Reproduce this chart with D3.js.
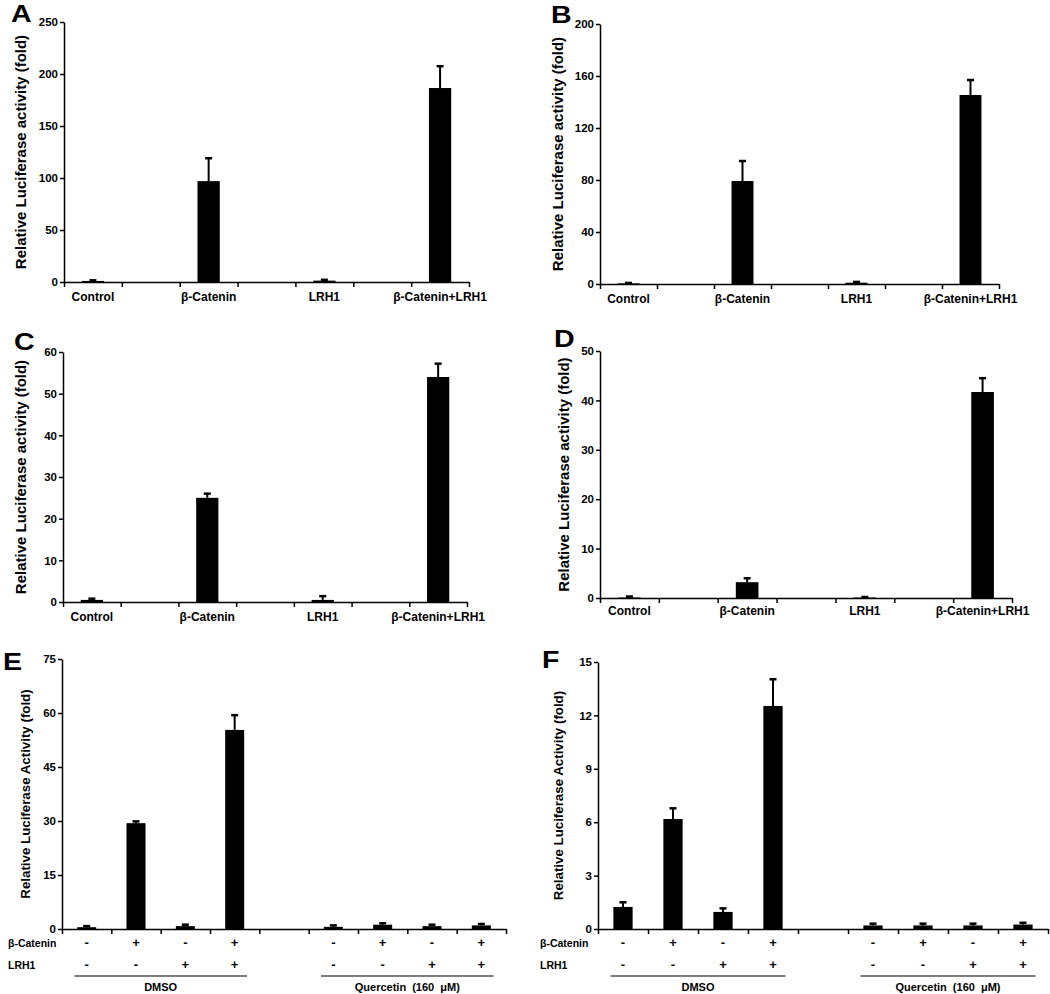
<!DOCTYPE html>
<html>
<head>
<meta charset="utf-8">
<script src="https://cdn.jsdelivr.net/npm/d3@7"></script>
<style>
  html, body { margin: 0; padding: 0; background: #fff; }
  svg { display: block; }
  text { font-family: "Liberation Sans", Arial, sans-serif; font-weight: bold; fill: #000; }
</style>
</head>
<body>
<svg id="chart" width="1050" height="994"></svg>
<script>
// ---------- DATA ----------
const catsABCD = ["Control", "", "β-Catenin", "", "LRH1", "", "β-Catenin+LRH1"];

const valA = [1.0, null, 97, null, 1.3, null, 186.5];
const errA = [0.6, null, 22, null, 0.8, null, 21];
const ticksA = [0, 50, 100, 150, 200, 250];

const valB = [0.5, null, 79.2, null, 1.0, null, 145.4];
const errB = [0.3, null, 15.4, null, 0.6, null, 11.5];
const ticksB = [0, 40, 80, 120, 160, 200];

const valC = [0.5, null, 25, null, 0.5, null, 54];
const errC = [0.3, null, 1.0, null, 0.9, null, 3.2];
const ticksC = [0, 10, 20, 30, 40, 50, 60];

const valD = [0.1, null, 3.2, null, 0.1, null, 41.7];
const errD = [0.2, null, 0.8, null, 0.1, null, 2.8];
const ticksD = [0, 10, 20, 30, 40, 50];

// E / F : 4 DMSO conditions, gap, 4 Quercetin conditions
const valE = [0.5, 29.4, 0.8, 55.3, null, 0.6, 1.2, 0.8, 1.0];
const errE = [0.3, 0.5, 0.4, 4.1, null, 0.4, 0.4, 0.4, 0.4];
const ticksE = [0, 15, 30, 45, 60, 75];

const valF = [1.24, 6.18, 0.96, 12.53, null, 0.2, 0.2, 0.2, 0.25];
const errF = [0.26, 0.6, 0.2, 1.5, null, 0.1, 0.1, 0.1, 0.1];
const ticksF = [0, 3, 6, 9, 12, 15];

const betaSigns = ["-", "+", "-", "+", "", "-", "+", "-", "+"];
const lrhSigns  = ["-", "-", "+", "+", "", "-", "-", "+", "+"];
const rowLabels = ["β-Catenin", "LRH1"];
const groupNames = ["DMSO", "Quercetin (160 μM)"];
const groupFirst = [0, 5];
const groupLast  = [3, 8];

const titleABCD = "Relative Luciferase activity (fold)";
const titleEF = "Relative Luciferase Activity (fold)";

// ---------- LAYOUT ----------
const svg = d3.select("#chart");

const panels = [
  { letter: "A", lx: 11, ly: 22, vals: valA, errs: errA, ticks: ticksA, max: 250, x0: 64, x1: 469, yTop: 22, yBot: 282, tx: 20, title: titleABCD, tsize: 15, cats: catsABCD, catDy: 19 },
  { letter: "B", lx: 551, ly: 23, vals: valB, errs: errB, ticks: ticksB, max: 200, x0: 600, x1: 999, yTop: 24, yBot: 284, tx: 557, title: titleABCD, tsize: 15, cats: catsABCD, catDy: 19 },
  { letter: "C", lx: 14, ly: 350, vals: valC, errs: errC, ticks: ticksC, max: 60, x0: 63, x1: 467, yTop: 352, yBot: 602, tx: 20, title: titleABCD, tsize: 15, cats: catsABCD, catDy: 19 },
  { letter: "D", lx: 554, ly: 347, vals: valD, errs: errD, ticks: ticksD, max: 50, x0: 600, x1: 1012, yTop: 351, yBot: 598, tx: 563, title: titleABCD, tsize: 15, cats: catsABCD, catDy: 17 },
  { letter: "E", lx: 3, ly: 670, vals: valE, errs: errE, ticks: ticksE, max: 75, x0: 62, x1: 506, yTop: 659, yBot: 929, tx: 25, title: titleEF, tsize: 13.3, signs: true, rowX: 8 },
  { letter: "F", lx: 542, ly: 668, vals: valF, errs: errF, ticks: ticksF, max: 15, x0: 598, x1: 1048, yTop: 662, yBot: 929, tx: 558, title: titleEF, tsize: 13.3, signs: true, rowX: 540 }
];

panels.forEach(p => {
  const n = p.vals.length;
  const g = svg.append("g");
  const y = d3.scaleLinear().domain([0, p.max]).range([p.yBot, p.yTop]);
  const xb = d3.scaleBand().domain(d3.range(n)).range([p.x0, p.x1]).padding(0);
  const xl = d3.scaleLinear().domain([0, n]).range([p.x0, p.x1]);
  const bw = xb.bandwidth();
  const barW = bw * 0.385;

  // y axis
  const ya = g.append("g").attr("transform", `translate(${p.x0},0)`)
    .call(d3.axisLeft(y).tickValues(p.ticks).tickSize(4).tickSizeOuter(0).tickPadding(2));
  ya.select(".domain").attr("stroke-width", 1.5);
  ya.selectAll(".tick line").attr("stroke-width", 1.5);
  ya.selectAll(".tick text").attr("font-size", 11.5).attr("font-family", "Liberation Sans, Arial, sans-serif").attr("font-weight", "bold");

  // x axis (tick marks at band edges)
  const xa = g.append("g").attr("transform", `translate(0,${p.yBot})`)
    .call(d3.axisBottom(xl).tickValues(d3.range(n + 1)).tickFormat("").tickSize(5).tickSizeOuter(0));
  xa.select(".domain").attr("stroke-width", 1.5);
  xa.selectAll(".tick line").attr("stroke-width", 1.5);

  // bars
  const idx = d3.range(n).filter(i => p.vals[i] !== null);
  g.selectAll("rect.bar").data(idx).join("rect")
    .attr("x", i => xb(i) + (bw - barW) / 2)
    .attr("width", barW)
    .attr("y", i => y(p.vals[i]))
    .attr("height", i => p.yBot - y(p.vals[i]))
    .attr("fill", "#000");

  // error bars (upper only)
  g.selectAll("line.err").data(idx).join("line")
    .attr("x1", i => xb(i) + bw / 2).attr("x2", i => xb(i) + bw / 2)
    .attr("y1", i => y(p.vals[i])).attr("y2", i => y(p.vals[i] + p.errs[i]))
    .attr("stroke", "#000").attr("stroke-width", 2);
  g.selectAll("line.cap").data(idx).join("line")
    .attr("x1", i => xb(i) + bw / 2 - 3.5).attr("x2", i => xb(i) + bw / 2 + 3.5)
    .attr("y1", i => y(p.vals[i] + p.errs[i])).attr("y2", i => y(p.vals[i] + p.errs[i]))
    .attr("stroke", "#000").attr("stroke-width", 2.5);

  // category labels
  if (p.cats) {
    g.selectAll("text.cat").data(d3.range(n).filter(i => p.cats[i] !== "")).join("text")
      .attr("x", i => xb(i) + bw / 2).attr("y", p.yBot + p.catDy)
      .attr("text-anchor", "middle").attr("font-size", 12)
      .text(i => p.cats[i]);
  }

  // sign rows
  if (p.signs) {
    const rows = [betaSigns, lrhSigns];
    rows.forEach((row, r) => {
      const yy = p.yBot + 18 + r * 22;
      g.append("text").attr("x", p.rowX).attr("y", yy).attr("font-size", 10.5).text(rowLabels[r]);
      g.selectAll(null).data(d3.range(n).filter(i => row[i] !== "")).join("text")
        .attr("x", i => xb(i) + bw / 2).attr("y", yy)
        .attr("text-anchor", "middle").attr("font-size", 13)
        .text(i => row[i]);
    });
    groupNames.forEach((name, k) => {
      const xa0 = xb(groupFirst[k]) + bw / 2 - bw * 0.25;
      const xa1 = xb(groupLast[k]) + bw / 2 + bw * 0.25;
      g.append("line").attr("x1", xa0).attr("x2", xa1).attr("y1", 976).attr("y2", 976)
        .attr("stroke", "#000").attr("stroke-width", 1.2);
      g.append("text").attr("x", (xa0 + xa1) / 2).attr("y", 991)
        .attr("text-anchor", "middle").attr("font-size", 11)
        .attr("word-spacing", k === 1 ? 3 : 0)
        .text(name);
    });
  }

  // y title
  g.append("text")
    .attr("transform", `translate(${p.tx},${(p.yTop + p.yBot) / 2}) rotate(-90)`)
    .attr("text-anchor", "middle").attr("dominant-baseline", "central")
    .attr("font-size", p.tsize)
    .text(p.title);

  // panel letter
  g.append("text")
    .attr("transform", `translate(${p.lx},${p.ly}) scale(1.3,1.12)`)
    .attr("font-size", 22)
    .text(p.letter);
});
</script>
</body>
</html>
